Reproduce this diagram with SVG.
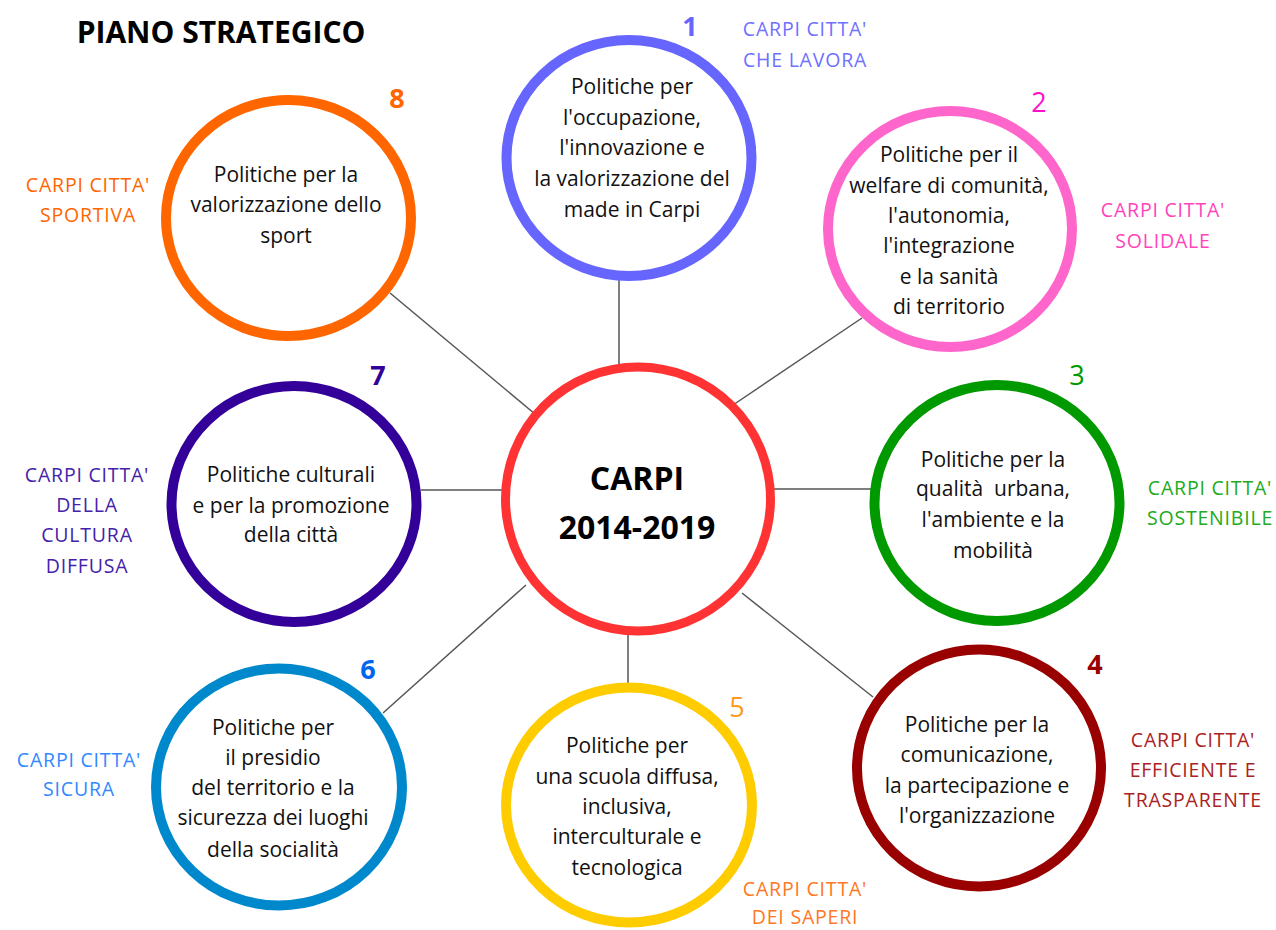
<svg xmlns="http://www.w3.org/2000/svg" width="1276" height="930" viewBox="0 0 1276 930">
<style>
.ring{fill:#fff;stroke-width:10}
.t{font-family:"Open Sans","Liberation Sans",sans-serif;font-size:21px;fill:#111;text-anchor:middle}
.lab{font-family:"Open Sans","Liberation Sans",sans-serif;font-size:19.5px;letter-spacing:0.8px;text-anchor:middle}
.num{font-family:"Open Sans","Liberation Sans",sans-serif;font-size:27px;text-anchor:middle}
.b{font-weight:bold}
.conn line{stroke:#555;stroke-width:1.5}
</style>
<rect width="1276" height="930" fill="#fff"/>
<text x="221" y="43" font-family="'Open Sans','Liberation Sans',sans-serif" font-size="30" font-weight="bold" fill="#000" text-anchor="middle">PIANO STRATEGICO</text>
<g id="connectors" class="conn">
<line x1="619" y1="280" x2="619" y2="366"/>
<line x1="733" y1="405" x2="862" y2="318"/>
<line x1="772" y1="489" x2="871" y2="489"/>
<line x1="742" y1="593" x2="873" y2="697"/>
<line x1="628" y1="632" x2="628" y2="684"/>
<line x1="526" y1="585" x2="383" y2="713"/>
<line x1="421" y1="490" x2="503" y2="490"/>
<line x1="390" y1="293" x2="535" y2="414"/>
</g>
<g id="center">
<ellipse cx="638" cy="499" rx="132.5" ry="132" fill="#fff" stroke="#FF3333" stroke-width="9"/>
<text x="637" y="490" font-family="'Open Sans','Liberation Sans',sans-serif" font-size="32" font-weight="bold" fill="#000" text-anchor="middle">CARPI</text>
<text x="637" y="539" font-family="'Open Sans','Liberation Sans',sans-serif" font-size="32" font-weight="bold" fill="#000" text-anchor="middle">2014-2019</text>
</g>
<g id="node1">
<ellipse class="ring" cx="629" cy="158" rx="122.5" ry="118" stroke="#6666FF"/>
<text class="num b" x="690" y="36" fill="#6666FF">1</text>
<text class="lab" x="805" y="36" fill="#7070FF">CARPI CITTA'</text>
<text class="lab" x="805" y="67" fill="#7070FF">CHE LAVORA</text>
<text class="t" x="632" y="94">Politiche per</text>
<text class="t" x="632" y="125">l'occupazione,</text>
<text class="t" x="632" y="155">l'innovazione e</text>
<text class="t" x="632" y="186">la valorizzazione del</text>
<text class="t" x="632" y="217">made in Carpi</text>
</g>
<g id="node2">
<ellipse class="ring" cx="950" cy="229" rx="122" ry="118" stroke="#FF66CC"/>
<text class="num" x="1039" y="112" fill="#FF11CC">2</text>
<text class="lab" x="1163" y="217" fill="#FF44BB">CARPI CITTA'</text>
<text class="lab" x="1163" y="248" fill="#FF44BB">SOLIDALE</text>
<text class="t" x="949" y="162">Politiche per il</text>
<text class="t" x="949" y="193">welfare di comunità,</text>
<text class="t" x="949" y="223">l'autonomia,</text>
<text class="t" x="949" y="253">l'integrazione</text>
<text class="t" x="949" y="284">e la sanità</text>
<text class="t" x="949" y="314">di territorio</text>
</g>
<g id="node3">
<ellipse class="ring" cx="997" cy="503" rx="122.5" ry="118" stroke="#009900"/>
<text class="num" x="1077" y="385" fill="#009900">3</text>
<text class="lab" x="1210" y="495" fill="#22AA22">CARPI CITTA'</text>
<text class="lab" x="1210" y="525" fill="#22AA22">SOSTENIBILE</text>
<text class="t" x="993" y="467">Politiche per la</text>
<text class="t" x="993" y="496">qualità&#160; urbana,</text>
<text class="t" x="993" y="527">l'ambiente e la</text>
<text class="t" x="993" y="558">mobilità</text>
</g>
<g id="node4">
<ellipse class="ring" cx="979" cy="768" rx="122" ry="118.5" stroke="#990000"/>
<text class="num b" x="1095" y="674" fill="#990000">4</text>
<text class="lab" x="1193" y="747" fill="#AA2222">CARPI CITTA'</text>
<text class="lab" x="1193" y="777" fill="#AA2222">EFFICIENTE E</text>
<text class="lab" x="1193" y="807" fill="#AA2222">TRASPARENTE</text>
<text class="t" x="977" y="732">Politiche per la</text>
<text class="t" x="977" y="762">comunicazione,</text>
<text class="t" x="977" y="793">la partecipazione e</text>
<text class="t" x="977" y="823">l'organizzazione</text>
</g>
<g id="node5">
<ellipse class="ring" cx="629" cy="805" rx="123" ry="117.5" stroke="#FFCC00"/>
<text class="num" x="737" y="717" fill="#FF9922">5</text>
<text class="lab" x="805" y="896" fill="#FF7722">CARPI CITTA'</text>
<text class="lab" x="805" y="924" fill="#FF7722">DEI SAPERI</text>
<text class="t" x="627" y="753">Politiche per</text>
<text class="t" x="627" y="784">una scuola diffusa,</text>
<text class="t" x="627" y="814">inclusiva,</text>
<text class="t" x="627" y="844">interculturale e</text>
<text class="t" x="627" y="875">tecnologica</text>
</g>
<g id="node6">
<ellipse class="ring" cx="279" cy="787" rx="123" ry="118.5" stroke="#0088CC"/>
<text class="num b" x="368" y="679" fill="#0066EE">6</text>
<text class="lab" x="79" y="767" fill="#3388FF">CARPI CITTA'</text>
<text class="lab" x="79" y="796" fill="#3388FF">SICURA</text>
<text class="t" x="273" y="735">Politiche per</text>
<text class="t" x="273" y="765">il presidio</text>
<text class="t" x="273" y="795">del territorio e la</text>
<text class="t" x="273" y="825">sicurezza dei luoghi</text>
<text class="t" x="273" y="857">della socialità</text>
</g>
<g id="node7">
<ellipse class="ring" cx="294" cy="504" rx="122.5" ry="118" stroke="#330099"/>
<text class="num b" x="378" y="385" fill="#330099">7</text>
<text class="lab" x="87" y="482" fill="#4422AA">CARPI CITTA'</text>
<text class="lab" x="87" y="512" fill="#4422AA">DELLA</text>
<text class="lab" x="87" y="542" fill="#4422AA">CULTURA</text>
<text class="lab" x="87" y="573" fill="#4422AA">DIFFUSA</text>
<text class="t" x="291" y="482">Politiche culturali</text>
<text class="t" x="291" y="513">e per la promozione</text>
<text class="t" x="291" y="542">della città</text>
</g>
<g id="node8">
<ellipse class="ring" cx="288.5" cy="218" rx="122.5" ry="118" stroke="#FF6600"/>
<text class="num b" x="397" y="108" fill="#FF6600">8</text>
<text class="lab" x="88" y="192" fill="#FF6600">CARPI CITTA'</text>
<text class="lab" x="88" y="222" fill="#FF6600">SPORTIVA</text>
<text class="t" x="286" y="182">Politiche per la</text>
<text class="t" x="286" y="212">valorizzazione dello</text>
<text class="t" x="286" y="243">sport</text>
</g>
</svg>
